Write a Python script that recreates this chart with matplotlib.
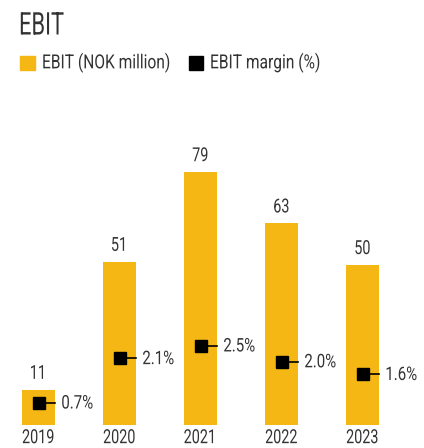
import matplotlib.pyplot as plt
from matplotlib.patches import Rectangle
from matplotlib.patheffects import AbstractPathEffect
from matplotlib.transforms import Affine2D

years = ['2019', '2020', '2021', '2022', '2023']
ebit = [11, 51, 79, 63, 50]
margin = [0.7, 2.1, 2.5, 2.0, 1.6]

plt.rcParams['font.family'] = ['Roboto', 'DejaVu Sans']


# no condensed font installed, so squeeze the glyph paths horizontally
class Squeeze(AbstractPathEffect):
    def __init__(self, sx=0.74, ha='left'):
        super().__init__()
        self.sx = sx
        self.k = {'left': 0, 'center': 0.5, 'right': 1}[ha]

    def draw_path(self, renderer, gc, tpath, affine, rgbFace=None):
        m = affine.get_matrix()
        tx = m[0, 2]
        w = tpath.get_extents(affine).x1 - tx
        shift = self.k * (1 - self.sx) * w
        t = affine + Affine2D().translate(-tx, 0).scale(self.sx, 1).translate(tx + shift, 0)
        renderer.draw_path(gc, tpath, t, rgbFace)


gold = '#F5B713'
txt = '#333333'
W, H = 424, 448

fig = plt.figure(figsize=(W / 100, H / 100), dpi=100)
ax = fig.add_axes([0, 23 / H, 1, 325 / H])
ax2 = ax.twinx()

x = range(len(years))
bw = 0.41
ax.bar(x, ebit, width=bw, color=gold)
ax.set_xlim(-38.5 / 81, (W - 38.5) / 81)
ax.set_ylim(0, 325 / 3.2)
ax2.set_ylim(0, 325 / 31.7)

for i, v in enumerate(ebit):
    ax.annotate(str(v), (i, v), xytext=(0, 5), textcoords='offset points',
                ha='center', va='bottom', fontsize=14, color=txt,
                path_effects=[Squeeze(ha='center')])

for i, m in enumerate(margin):
    ax2.plot([i, i + bw / 2], [m, m], color='black', lw=1.2)
    ax2.plot(i, m, marker='s', color='black', markersize=8)
    ax2.annotate(f'{m:.1f}%', (i + bw / 2, m), xytext=(4.5, -0.5), textcoords='offset points',
                 ha='left', va='center', fontsize=13.5, color=txt,
                 path_effects=[Squeeze(sx=0.8)])

ax.set_xticks(list(x))
ax.set_xticklabels(years, fontsize=14, color=txt)
for lab in ax.get_xticklabels():
    lab.set_path_effects([Squeeze(ha='center')])
ax.tick_params(axis='x', length=0, pad=3)
ax.set_yticks([])
ax2.set_yticks([])
for a in (ax, ax2):
    for s in a.spines.values():
        s.set_visible(False)

fig.text(19 / W, 1 - 26 / H, 'EBIT', fontsize=22.5, color=txt, va='center', ha='left',
         path_effects=[Squeeze(sx=0.7)])
fig.add_artist(Rectangle((20 / W, 1 - 70 / H), 15 / W, 14 / H, color=gold, transform=fig.transFigure))
fig.text(42 / W, 1 - 63 / H, 'EBIT (NOK million)', fontsize=14, color=txt, va='center', ha='left',
         path_effects=[Squeeze(sx=0.8)])
fig.add_artist(Rectangle((189 / W, 1 - 70 / H), 14 / W, 14 / H, color='black', transform=fig.transFigure))
fig.text(210 / W, 1 - 63 / H, 'EBIT margin (%)', fontsize=14, color=txt, va='center', ha='left',
         path_effects=[Squeeze(sx=0.8)])

fig.savefig('out.png', dpi=100)
